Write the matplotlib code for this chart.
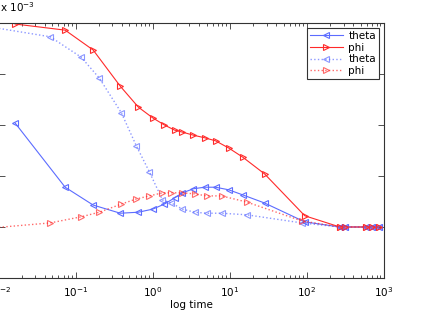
import matplotlib
matplotlib.use("Agg")
import matplotlib.pyplot as plt
from matplotlib.ticker import LogLocator, NullFormatter, FixedLocator

# time points (hours)
t_solid = [0.0164, 0.0732, 0.169, 0.380, 0.652, 1.0, 1.42, 1.92, 2.43, 3.38, 4.70,
           6.53, 9.65, 14.7, 28.3, 93.9, 268, 311, 583, 698, 860]
t_dot = [0.008, 0.0468, 0.118, 0.203, 0.392, 0.614, 0.906, 1.34, 1.75, 2.43, 3.49,
         4.99, 7.82, 16.5, 85.8, 268, 311, 583, 698, 860]

# values in units of 1e-3
theta_solid = [3.04, 1.78, 1.43, 1.27, 1.29, 1.35, 1.45, 1.57, 1.67, 1.75, 1.78,
               1.78, 1.73, 1.63, 1.47, 1.10, 1.0, 1.0, 1.0, 1.0, 1.0]
phi_solid = [4.98, 4.86, 4.47, 3.76, 3.35, 3.14, 3.00, 2.90, 2.86, 2.80, 2.75,
             2.69, 2.55, 2.37, 2.04, 1.22, 1.0, 1.0, 1.0, 1.0, 1.0]
theta_dot = [4.92, 4.73, 4.33, 3.92, 3.24, 2.59, 2.08, 1.53, 1.47, 1.35, 1.29,
             1.27, 1.27, 1.24, 1.08, 1.0, 1.0, 1.0, 1.0, 1.0]
phi_dot = [0.98, 1.08, 1.20, 1.29, 1.45, 1.55, 1.61, 1.67, 1.67, 1.67, 1.65,
           1.61, 1.61, 1.49, 1.12, 1.0, 1.0, 1.0, 1.0, 1.0]

blue = "#5c6cff"
red = "#ff2a2a"

W, H = 432, 314
fig = plt.figure(figsize=(W / 100, H / 100), dpi=100)
ax = fig.add_axes([-1.5 / W, 36 / H, 385.5 / W, 255 / H])

mk = dict(markersize=5, markerfacecolor="none", markeredgewidth=0.8)
ax.plot(t_solid, theta_solid, "-", color=blue, marker="<", lw=0.8, label="theta", **mk)
ax.plot(t_solid, phi_solid, "-", color=red, marker=">", lw=0.8, label="phi", **mk)
ax.plot(t_dot, theta_dot, ":", color=blue, marker="<", lw=1.0, alpha=0.7, label="theta", **mk)
ax.plot(t_dot, phi_dot, ":", color=red, marker=">", lw=1.0, alpha=0.7, label="phi", **mk)

ax.set_xscale("log")
ax.set_xlim(1e-2, 1e3)
ax.set_ylim(0, 5)
ax.yaxis.set_major_locator(FixedLocator([0, 1, 2, 3, 4, 5]))
ax.set_yticklabels([])
ax.xaxis.set_major_locator(LogLocator(base=10, numticks=10))
ax.xaxis.set_minor_locator(LogLocator(base=10, subs=range(2, 10), numticks=20))
ax.xaxis.set_minor_formatter(NullFormatter())

ax.tick_params(which="both", direction="in", top=True, right=True, labelsize=7.5,
               color="#333333", width=0.6)
ax.tick_params(which="major", length=4)
ax.tick_params(which="minor", length=2)
ax.tick_params(axis="x", pad=5)
for s in ax.spines.values():
    s.set_linewidth(0.8)
    s.set_color("#333333")

ax.set_xlabel("log time", fontsize=7.5, labelpad=1)

fig.text(0 / W, 1 - 12 / H, r"x 10$^{-3}$", fontsize=7.5, ha="left", va="baseline")

leg = ax.legend(loc="upper right", bbox_to_anchor=(379 / W, 1 - 28 / H),
                bbox_transform=fig.transFigure, fontsize=7.5, fancybox=False,
                framealpha=1, edgecolor="#333333", borderaxespad=0,
                handlelength=3.2, borderpad=0.3, labelspacing=0.15, handletextpad=0.5)
leg.get_frame().set_linewidth(0.8)

fig.savefig("out.png", dpi=100)
